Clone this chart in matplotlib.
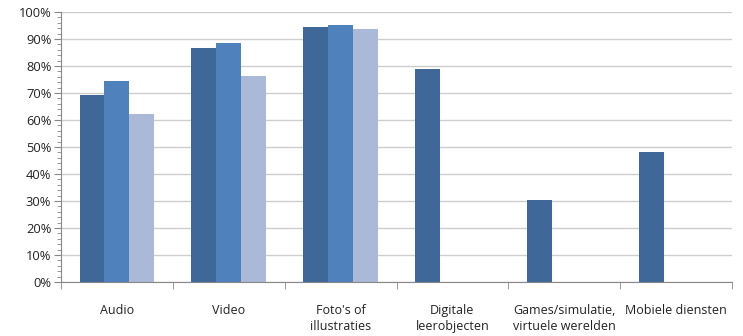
import numpy as np
import matplotlib
matplotlib.use("Agg")
import matplotlib.pyplot as plt
from matplotlib.ticker import MultipleLocator, PercentFormatter

categories = ["Audio", "Video", "Foto's of\nillustraties", "Digitale\nleerobjecten",
              "Games/simulatie,\nvirtuele werelden", "Mobiele diensten"]
series1 = [69.3, 86.5, 94.3, 79.0, 30.3, 48.0]
series2 = [74.4, 88.4, 95.1, 0, 0, 0]
series3 = [62.1, 76.4, 93.7, 0, 0, 0]
colors = ["#3F6899", "#4F81BD", "#AAB9D7"]

plt.rcParams["font.family"] = ["Open Sans", "DejaVu Sans"]

fig = plt.figure(figsize=(7.43, 3.36), dpi=100)
ax = fig.add_axes([61/743, 1-282/336, (732-61)/743, (282-12)/336])

x = np.arange(len(categories))
w = 1/4.5
for i, vals in enumerate([series1, series2, series3]):
	ax.bar(x - w + i*w, vals, width=w, color=colors[i], zorder=2)

ax.set_xlim(-0.5, len(categories)-0.5)
ax.set_ylim(0, 100)
ax.yaxis.set_major_locator(MultipleLocator(10))
ax.yaxis.set_minor_locator(MultipleLocator(2))
ax.yaxis.set_major_formatter(PercentFormatter(decimals=0))
ax.grid(axis="y", color="#CDCDCD", linewidth=1, zorder=0)

# category labels centred, tick marks between categories
ax.set_xticks(x)
ax.set_xticklabels(categories, fontsize=9, va="top", linespacing=1.3, color="#222222")
ax.tick_params(axis="x", length=0, pad=16)
ax.set_xticks(np.arange(-0.5, len(categories)), minor=True)
ax.tick_params(axis="x", which="minor", length=5, color="#878787")
ax.tick_params(axis="y", which="major", length=5, color="#878787", labelsize=9.3, pad=2, labelcolor="#222222")
ax.tick_params(axis="y", which="minor", length=3, color="#878787")

for s in ["top", "right"]:
	ax.spines[s].set_visible(False)
for s in ["left", "bottom"]:
	ax.spines[s].set_color("#878787")

fig.savefig("out.png", dpi=100)
